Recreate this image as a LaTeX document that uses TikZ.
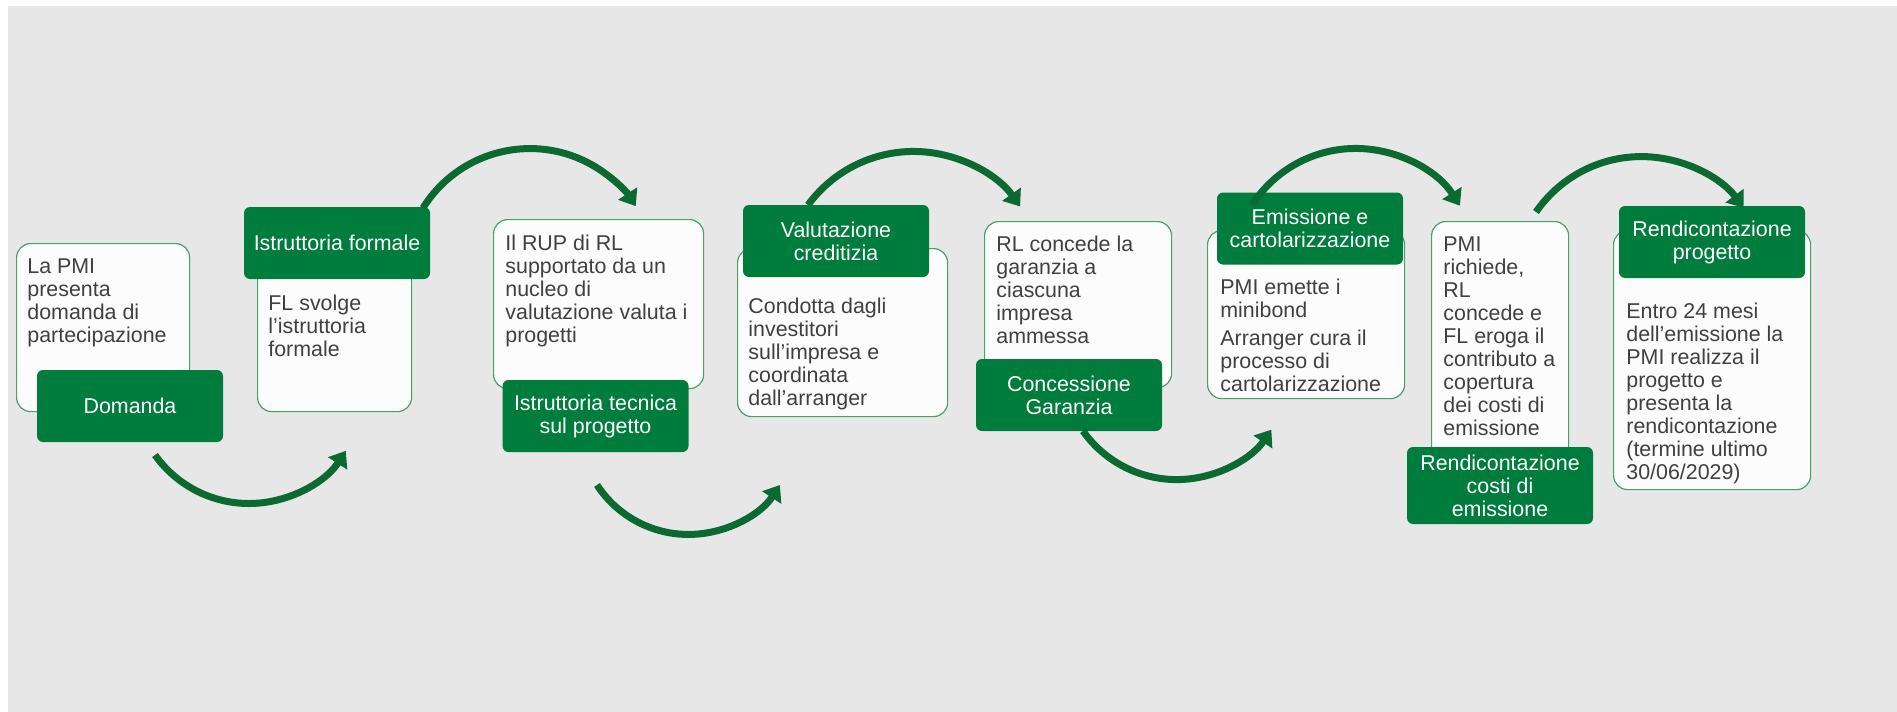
\documentclass[tikz,border=0pt]{standalone}
\usepackage{fontspec}
\setmainfont{Liberation Sans}
\usetikzlibrary{arrows.meta}

\definecolor{stepgreen}{RGB}{0,124,61}
\definecolor{arcgreen}{RGB}{10,106,50}
\definecolor{edgegreen}{RGB}{74,160,108}
\definecolor{panelgray}{RGB}{231,231,231}
\definecolor{boxwhite}{RGB}{252,252,252}
\definecolor{bodytext}{RGB}{64,64,64}

\begin{document}
\begin{tikzpicture}[x=0.5pt, y=-0.5pt,
  infobox/.style={draw=edgegreen, fill=boxwhite, line width=0.6pt, rounded corners=7pt, anchor=north west, inner sep=0pt},
  stagebox/.style={fill=stepgreen, text=white, rounded corners=3pt, minimum width=93pt, minimum height=36pt, align=center, inner sep=0pt, font=\fontsize{10.7}{11.5}\selectfont},
  infotext/.style={anchor=north west, align=left, inner sep=0pt, text=bodytext, font=\fontsize{10.7}{11.5}\selectfont},
  flow/.style={draw=arcgreen, line width=3.5pt, -{Triangle[length=7.5pt,width=11pt]}}]

% Define the canvas
\fill[white] (0,0) rectangle (1897,712);
\fill[panelgray] (8,6) rectangle (1897,712);
\useasboundingbox (0,0) rectangle (1897,712);

% Draw the white description boxes
\node[infobox, minimum width=86.5pt, minimum height=84pt] (B1) at (16,243) {};
\node[infobox, minimum width=77pt, minimum height=85.5pt] (B2) at (257,240) {};
\node[infobox, minimum width=105pt, minimum height=84.5pt] (B3) at (493,219) {};
\node[infobox, minimum width=105pt, minimum height=84pt] (B4) at (737,248) {};
\node[infobox, minimum width=93.5pt, minimum height=83pt] (B5) at (984,221) {};
\node[infobox, minimum width=98.5pt, minimum height=84pt] (B6) at (1207,230) {};
\node[infobox, minimum width=68.5pt, minimum height=124.5pt] (B7) at (1431,221) {};
\node[infobox, minimum width=98.5pt, minimum height=129.5pt] (B8) at (1613,230) {};

% Draw the green step labels
\node[stagebox] (G1) at (130,406) {Domanda};
\node[stagebox] (G2) at (337,243) {Istruttoria formale};
\node[stagebox] (G3) at (595.5,416) {Istruttoria tecnica\\sul progetto};
\node[stagebox] (G4) at (836,241) {Valutazione\\creditizia};
\node[stagebox] (G5) at (1069,395) {Concessione\\Garanzia};
\node[stagebox] (G6) at (1310,228.5) {Emissione e\\cartolarizzazione};
\node[stagebox, minimum height=38.5pt] (G7) at (1500,485.5) {Rendicontazione\\costi di\\emissione};
\node[stagebox] (G8) at (1712,242) {Rendicontazione\\progetto};

% Add the description texts
\node[infotext] (T1) at (27,258) {La PMI\\presenta\\domanda di\\partecipazione};
\node[infotext] (T2) at (268,295) {FL svolge\\l’istruttoria\\formale};
\node[infotext] (T3) at (505,235) {Il RUP di RL\\supportato da un\\nucleo di\\valutazione valuta i\\progetti};
\node[infotext] (T4) at (748,298) {Condotta dagli\\investitori\\sull’impresa e\\coordinata\\dall’arranger};
\node[infotext] (T5) at (996,236) {RL concede la\\garanzia a\\ciascuna\\impresa\\ammessa};
\node[infotext] (T6) at (1220,279) {PMI emette i\\minibond\\[2.5pt]Arranger cura il\\processo di\\cartolarizzazione};
\node[infotext] (T7) at (1443,236) {PMI\\richiede,\\RL\\concede e\\FL eroga il\\contributo a\\copertura\\dei costi di\\emissione};
\node[infotext] (T8) at (1626,303) {Entro 24 mesi\\dell’emissione la\\PMI realizza il\\progetto e\\presenta la\\rendicontazione\\(termine ultimo\\30/06/2029)};

% Define the start points of the arcs
\coordinate (S1) at (155,455);
\coordinate (S2) at (423,208);
\coordinate (S3) at (597,485);
\coordinate (S4) at (808,205);
\coordinate (S5) at (1083,431);
\coordinate (S6) at (1252,205);
\coordinate (S7) at (1536,212);

% Draw the arcs between the steps
\draw[flow] (S1) arc[start angle=144.6, end angle=32.9, radius=115.3];
\draw[flow] (S2) arc[start angle=211.9, end angle=327.1, radius=126];
\draw[flow] (S3) arc[start angle=146.8, end angle=33.2, radius=109.3];
\draw[flow] (S4) arc[start angle=216.2, end angle=324.6, radius=130.8];
\draw[flow] (S5) arc[start angle=144.8, end angle=34.4, radius=114.7];
\draw[flow] (S6) arc[start angle=212.8, end angle=327.6, radius=123.4];
\draw[flow] (S7) arc[start angle=214.5, end angle=323.1, radius=127.8];

\end{tikzpicture}
\end{document}
